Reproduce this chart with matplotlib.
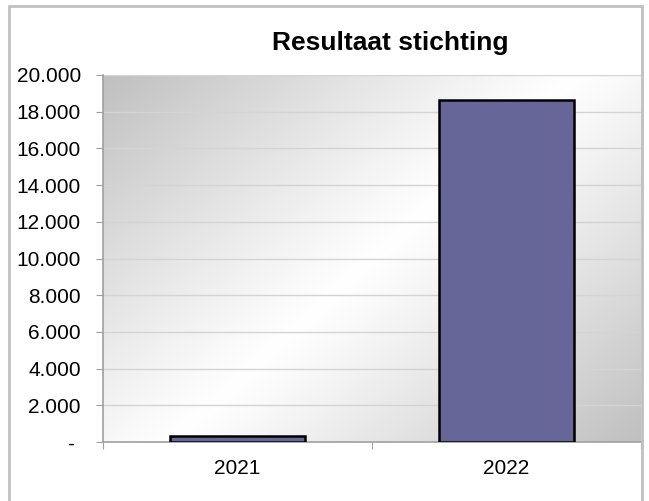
import matplotlib
matplotlib.use("Agg")
import matplotlib.pyplot as plt
import numpy as np
from matplotlib.patches import Rectangle
from matplotlib.ticker import FuncFormatter

years = ["2021", "2022"]
resultaat = [350, 18650]
y_ticks = list(range(0, 20001, 2000))
title = "Resultaat stichting"

plt.rcParams['font.family'] = ['Liberation Sans', 'DejaVu Sans']

fig = plt.figure(figsize=(6.49, 5.01), dpi=100)
W, H = 649, 501
fig.patches.append(Rectangle((9 / W, -0.01), (642 - 9) / W, 1.01 - 6 / H,
                             transform=fig.transFigure, fill=False,
                             edgecolor="#c0c0c0", linewidth=2))

ax = fig.add_axes([103 / W, (H - 442) / H, (641 - 103) / W, 367 / H])

# diagonal gradient background: grey -> white -> grey
pw, ph = 538, 367
xx, yy = np.meshgrid(np.arange(pw), np.arange(ph))
s = (xx + 1.1 * yy) / (pw + 1.1 * ph)
g = 1 - 0.25 * np.abs(2 * s - 1) ** 1.1
img = np.dstack([g, g, g])
ax.imshow(img, extent=[0, 1, 0, 1], transform=ax.transAxes, aspect="auto",
          zorder=0, interpolation="bilinear")

x = np.arange(len(years))
ax.bar(x, resultaat, width=0.5, color="#666699", edgecolor="black",
       linewidth=1.8, zorder=3)

ax.set_xlim(-0.5, 1.5)
ax.set_ylim(0, 20000)
ax.set_yticks(y_ticks)
ax.yaxis.set_major_formatter(FuncFormatter(
    lambda v, p: "- " if v == 0 else f"{int(v):,}".replace(",", ".")))
ax.grid(axis="y", color="#d4d4d4", linewidth=1, zorder=1)
ax.set_axisbelow(True)

ax.set_xticks([-0.5, 0.5, 1.5], minor=False)
ax.set_xticklabels([])
ax.set_xticks(x, minor=True)
ax.set_xticklabels(years, minor=True)
ax.tick_params(axis="x", which="minor", length=0, labelsize=15, pad=12)
ax.tick_params(axis="x", which="major", length=5, color="#a0a0a0")
ax.tick_params(axis="y", length=5, color="#a0a0a0", labelsize=15, pad=11)

for side in ["top", "right"]:
    ax.spines[side].set_visible(False)
for side in ["left", "bottom"]:
    ax.spines[side].set_color("#a0a0a0")
    ax.spines[side].set_linewidth(1.2)

fig.text(390 / W, 1 - 43 / H, title, ha="center", va="center",
         fontsize=19, fontweight="bold")

fig.savefig("out.png", dpi=100)
